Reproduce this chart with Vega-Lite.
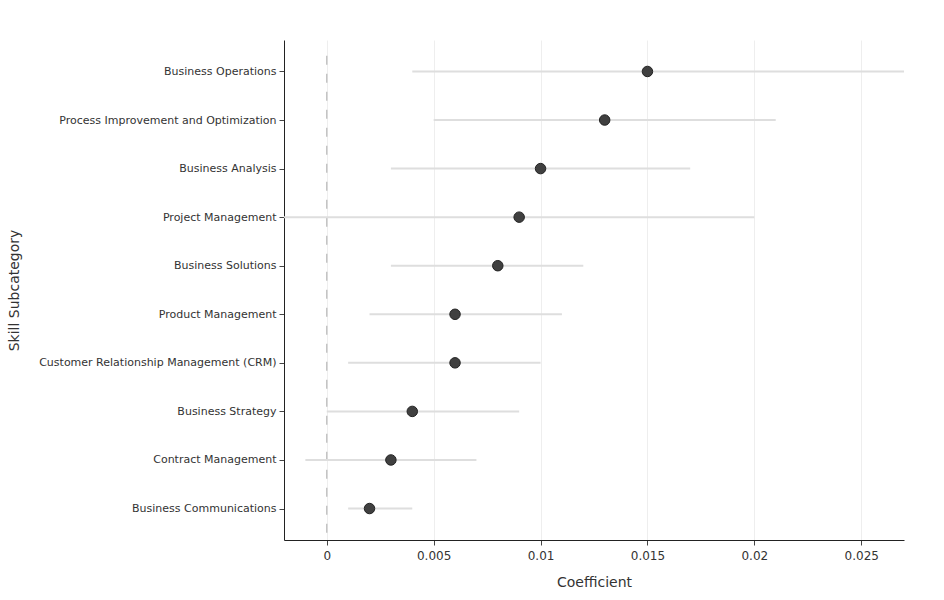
{
  "$schema": "https://vega.github.io/schema/vega-lite/v6.json",
  "width": 620,
  "height": 500,
  "autosize": "none",
  "padding": {"left": 284, "top": 40, "right": 40, "bottom": 60},
  "background": "white",
  "config": {
    "font": "DejaVu Sans",
    "view": {"stroke": null},
    "axis": {
      "labelFont": "DejaVu Sans",
      "titleFont": "DejaVu Sans",
      "labelColor": "#333",
      "titleColor": "#333",
      "titleFontWeight": "normal",
      "titleFontSize": 14,
      "domainColor": "#222",
      "tickColor": "#444",
      "tickSize": 5,
      "labelLimit": 0
    }
  },
  "datasets": {
    "rows": [
      {"skill": "Business Operations", "coef": 0.015, "lo": 0.004, "hi": 0.027},
      {"skill": "Process Improvement and Optimization", "coef": 0.013, "lo": 0.005, "hi": 0.021},
      {"skill": "Business Analysis", "coef": 0.010, "lo": 0.003, "hi": 0.017},
      {"skill": "Project Management", "coef": 0.009, "lo": -0.003, "hi": 0.020},
      {"skill": "Business Solutions", "coef": 0.008, "lo": 0.003, "hi": 0.012},
      {"skill": "Product Management", "coef": 0.006, "lo": 0.002, "hi": 0.011},
      {"skill": "Customer Relationship Management (CRM)", "coef": 0.006, "lo": 0.001, "hi": 0.010},
      {"skill": "Business Strategy", "coef": 0.004, "lo": 0.000, "hi": 0.009},
      {"skill": "Contract Management", "coef": 0.003, "lo": -0.001, "hi": 0.007},
      {"skill": "Business Communications", "coef": 0.002, "lo": 0.001, "hi": 0.004}
    ],
    "zero": [{"x": 0, "y0": -0.5, "y1": 9.5}]
  },
  "layer": [
    {
      "data": {"name": "zero"},
      "mark": {"type": "rule", "color": "#c4c4c4", "strokeWidth": 1.5, "strokeDash": [9, 9]},
      "encoding": {
        "x": {"field": "x", "type": "quantitative", "scale": {"domain": [-0.002, 0.027], "nice": false, "zero": false}},
        "y": {"field": "y0", "type": "quantitative", "scale": {"domain": [-0.6485, 9.6485], "nice": false, "zero": false}, "axis": null},
        "y2": {"field": "y1"}
      }
    },
    {
      "data": {"name": "rows"},
      "layer": [
        {
          "mark": {"type": "rule", "color": "#dedede", "strokeWidth": 2, "clip": true},
          "encoding": {
            "x": {"field": "lo", "type": "quantitative"},
            "x2": {"field": "hi"},
            "y": {"field": "skill", "type": "nominal", "sort": null}
          }
        },
        {
          "mark": {"type": "point", "filled": true, "shape": "circle", "size": 110, "fill": "#404040", "stroke": "#222", "strokeWidth": 1, "opacity": 1},
          "encoding": {
            "x": {
              "field": "coef", "type": "quantitative",
              "scale": {"domain": [-0.002, 0.027], "nice": false, "zero": false},
              "axis": {
                "title": "Coefficient",
                "values": [0, 0.005, 0.01, 0.015, 0.02, 0.025],
                "format": "~g",
                "labelFontSize": 12,
                "labelPadding": 5,
                "grid": true,
                "gridColor": "#eeeeee",
                "gridWidth": 1,
                "titleY": 42,
                "titleBaseline": "middle"
              }
            },
            "y": {
              "field": "skill", "type": "nominal", "sort": null,
              "scale": {"type": "point", "padding": 0.648},
              "axis": {
                "title": "Skill Subcategory",
                "labelFontSize": 11,
                "labelPadding": 3,
                "grid": false,
                "titleX": -270,
                "titleY": 250,
                "titleAlign": "center",
                "titleBaseline": "middle",
                "titleAngle": -90
              }
            }
          }
        }
      ]
    }
  ],
  "resolve": {"scale": {"y": "independent"}}
}
